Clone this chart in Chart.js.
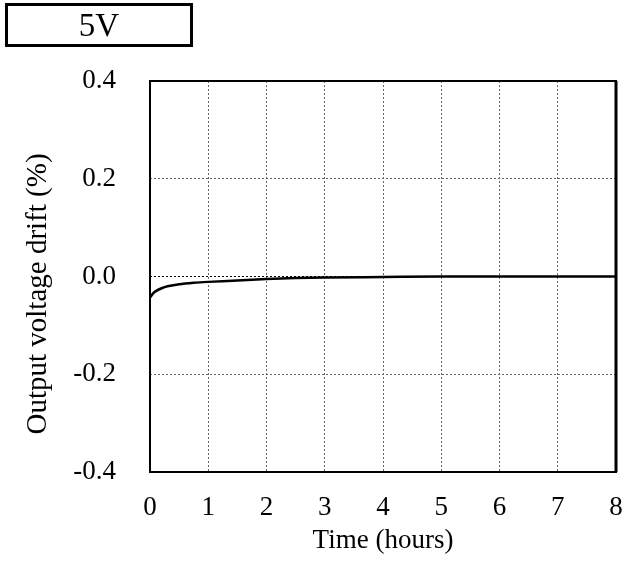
<!DOCTYPE html>
<html>
<head>
<meta charset="utf-8">
<script src="https://cdn.jsdelivr.net/npm/chart.js@4"></script>
<style>
  html, body { margin: 0; padding: 0; background: #fff; }
  #wrap { position: relative; width: 632px; height: 561px; }
  #box {
    position: absolute; left: 5px; top: 3px; width: 182px; height: 38px;
    border: 3px solid #000; font-family: "Liberation Serif", serif;
    font-size: 33px; line-height: 38px; text-align: center; color: #000;
  }
</style>
</head>
<body>
<div id="wrap">
  <canvas id="chart" width="632" height="561"></canvas>
  <div id="box">5V</div>
</div>
<script>
// elapsed time (hours) and output drift (%)
const hours = [0, 0.05, 0.1, 0.2, 0.3, 0.5, 0.75, 1, 1.5, 2, 2.5, 3, 4, 5, 6, 7, 8];
const drift = [-0.043, -0.035, -0.03, -0.024, -0.02, -0.016, -0.013, -0.011, -0.008, -0.005, -0.003, -0.002, -0.001, 0, 0, 0, 0];
const xTicks = [0, 1, 2, 3, 4, 5, 6, 7, 8];
const yTicks = [-0.4, -0.2, 0, 0.2, 0.4];
const yTitle = 'Output voltage drift (%)';

const serif = "'Liberation Serif', 'Times New Roman', serif";

// frame round the plot area + y title (sits a bit below the plot centre)
const frame = {
  id: 'frame',
  afterDraw(chart) {
    const a = chart.chartArea, c = chart.ctx;
    c.save();
    c.strokeStyle = '#000';
    c.lineWidth = 2;
    c.strokeRect(a.left, a.top, a.right - a.left, a.bottom - a.top);
    // right edge is a touch heavier in the original
    c.lineWidth = 3;
    c.beginPath();
    c.moveTo(a.right, a.top);
    c.lineTo(a.right, a.bottom);
    c.stroke();
    c.translate(38, 294);
    c.rotate(-Math.PI / 2);
    c.fillStyle = '#000';
    c.font = '29px ' + serif;
    c.textAlign = 'center';
    c.textBaseline = 'middle';
    c.fillText(yTitle, 0, 0);
    c.restore();
  }
};

new Chart(document.getElementById('chart'), {
  type: 'line',
  data: {
    datasets: [{
      data: hours.map((h, i) => ({ x: h, y: drift[i] })),
      borderColor: '#000',
      borderWidth: 2.5,
      pointRadius: 0,
      cubicInterpolationMode: 'monotone',
      fill: false
    }]
  },
  options: {
    responsive: false,
    animation: false,
    layout: { padding: { top: 81, right: 16, left: 0, bottom: 0 } },
    plugins: { legend: { display: false }, tooltip: { enabled: false } },
    scales: {
      x: {
        type: 'linear', min: 0, max: 8,
        afterBuildTicks: s => { s.ticks = xTicks.map(v => ({ value: v })); },
        afterFit: s => { s.height = 89; s.paddingLeft = 0; s.paddingRight = 0; },
        grid: { color: '#666', lineWidth: 1, drawTicks: false },
        border: { display: false, dash: [2, 2] },
        ticks: { color: '#000', padding: 20, font: { family: serif, size: 27 } },
        title: { display: true, text: 'Time (hours)', color: '#000', padding: { top: 0, bottom: 4 }, font: { family: serif, size: 27 } }
      },
      y: {
        min: -0.4, max: 0.4,
        afterBuildTicks: s => { s.ticks = yTicks.map(v => ({ value: v })); },
        afterFit: s => { s.width = 150; },
        grid: {
          color: ctx => ctx.tick && ctx.tick.value === 0 ? '#000' : '#666',
          lineWidth: 1, drawTicks: false
        },
        border: { display: false, dash: [2, 2] },
        ticks: {
          color: '#000', padding: 34, font: { family: serif, size: 27 },
          callback: v => v.toFixed(1)
        }
      }
    }
  },
  plugins: [frame]
});
</script>
</body>
</html>
